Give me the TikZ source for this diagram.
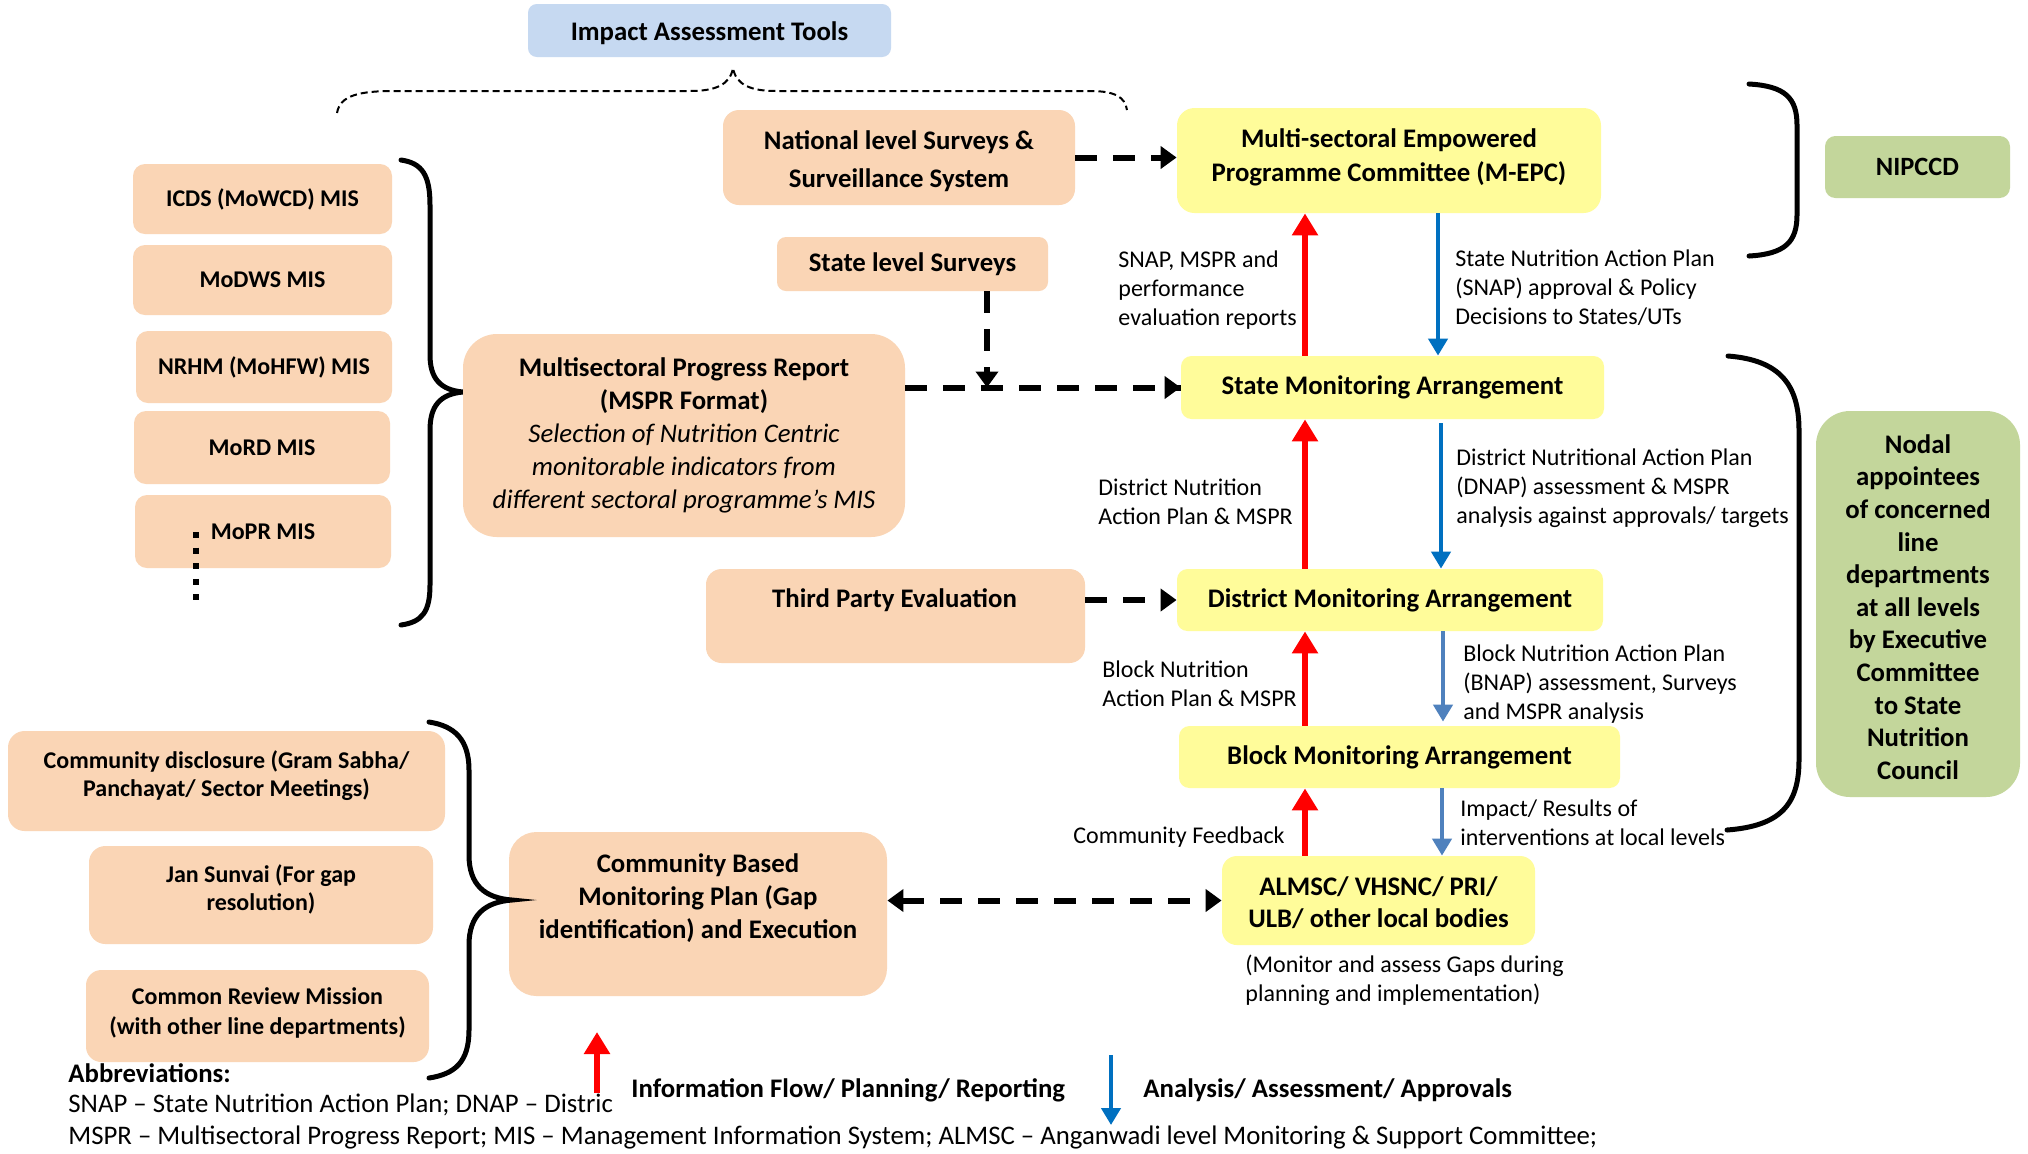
\documentclass[tikz,border=0pt]{standalone}
\usepackage{fontspec}
\setmainfont{Carlito}
\usetikzlibrary{arrows.meta}
\definecolor{peach}{HTML}{FAD5B5}
\definecolor{ylw}{HTML}{FFFC9A}
\definecolor{grn}{HTML}{C3D69B}
\definecolor{ttl}{HTML}{C6D9F1}
\definecolor{blA}{HTML}{0070C0}
\definecolor{blB}{HTML}{4F81BD}
\tikzset{
  box/.style={rounded corners=#1, inner sep=0pt, align=center, font=\bfseries\fontsize{13.4}{16.5}\selectfont},
  pbox/.style={box=#1, fill=peach},
  ybox/.style={box=#1, fill=ylw},
  gbox/.style={box=#1, fill=grn},
  misbox/.style={pbox=6pt, font=\bfseries\fontsize{12}{16.5}\selectfont},
  txt/.style={inner sep=0pt, align=center, font=\bfseries\fontsize{13.4}{16.5}\selectfont},
  ctxt/.style={inner sep=0pt, align=center, font=\bfseries\fontsize{12}{14}\selectfont},
  lbl/.style={inner sep=0pt, align=left, anchor=west, font=\fontsize{12}{14.5}\selectfont},
  dasharr/.style={line width=3pt, dash pattern=on 11pt off 8pt, -{Triangle[length=8pt,width=11pt]}},
  dasharrb/.style={line width=3pt, dash pattern=on 11pt off 8pt, {Triangle[length=8pt,width=11pt]}-{Triangle[length=8pt,width=11pt]}},
  rarr/.style={draw=red, line width=3.2pt, -{Triangle[length=11pt,width=12.5pt]}},
  barr/.style={draw=#1, line width=2.3pt, -{Triangle[length=8.5pt,width=9.5pt]}},
  brace/.style={line width=2.5pt, line cap=round},
  dotbrace/.style={line width=1pt, dash pattern=on 3.5pt off 2pt},
}
\begin{document}
\begin{tikzpicture}[x=0.5pt,y=-0.5pt]
\useasboundingbox (0,0) rectangle (2028,1153);
\fill[white] (0,0) rectangle (2028,1153);

% title and dotted brace
\node[box=4.4pt, fill=ttl, minimum width=181.5pt, minimum height=26.5pt] (imp) at (709.5,30.5) {};
\node[txt] (impt) at (709.5,33) {Impact Assessment Tools};
\draw[dotbrace] (337,113) .. controls (340,95) and (360,91) .. (395,91) -- (690,91) .. controls (715,91) and (730,85) .. (733,68) .. controls (736,85) and (751,91) .. (776,91) -- (1090,91) .. controls (1115,91) and (1125,97) .. (1127,110);

% top boxes
\node[pbox=8pt, minimum width=176pt, minimum height=47.5pt] (nat) at (899,157.5) {};
\node[txt, font=\bfseries\fontsize{13.4}{19}\selectfont] (natt) at (899,161) {National level Surveys \&\\Surveillance System};
\node[ybox=8.75pt, minimum width=212pt, minimum height=52.5pt] (mepc) at (1389,160.5) {};
\node[txt, font=\bfseries\fontsize{13.4}{17}\selectfont] (mepct) at (1389,157) {Multi-sectoral Empowered\\Programme Committee (M-EPC)};
\node[gbox=5.2pt, minimum width=92.5pt, minimum height=31pt, font=\bfseries\fontsize{13.2}{16}\selectfont] (nipccd) at (1917.5,167) {NIPCCD};
\node[pbox=4.5pt, minimum width=135.5pt, minimum height=27pt] (ssurv) at (912.5,264) {State level Surveys};

% MIS boxes
\node[misbox, minimum width=129.5pt, minimum height=35pt] (icds) at (262.5,199) {ICDS (MoWCD) MIS};
\node[misbox, minimum width=129.5pt, minimum height=35pt] (modws) at (262.5,280) {MoDWS MIS};
\node[misbox, minimum width=128pt, minimum height=36pt] (nrhm) at (264,367) {NRHM (MoHFW) MIS};
\node[misbox, minimum width=128pt, minimum height=36.5pt] (mord) at (262,447.5) {MoRD MIS};
\node[misbox, minimum width=128pt, minimum height=36.5pt] (mopr) at (263,531.5) {MoPR MIS};
\coordinate (dt1) at (196,532);
\coordinate (dt2) at (196,604);
\draw[line width=3pt, dash pattern=on 3pt off 4.8pt] (dt1) -- (dt2);

% brace MIS
\draw[brace] (401,160) .. controls (422,163) and (430,175) .. (430,205) -- (430,355) .. controls (430,378) and (440,390) .. (463,392) .. controls (440,394) and (430,406) .. (430,430) -- (430,585) .. controls (430,612) and (422,622) .. (401,625);

% MSPR
\node[pbox=17pt, minimum width=221pt, minimum height=101.5pt] (mspr) at (684,435.5) {Multisectoral Progress Report\\(MSPR Format)\\{\mdseries\itshape Selection of Nutrition Centric}\\{\mdseries\itshape monitorable indicators from}\\{\mdseries\itshape different sectoral programme’s MIS}};

% monitoring chain
\node[ybox=5.25pt, minimum width=211.5pt, minimum height=31.5pt] (state) at (1392.5,387.5) {State Monitoring Arrangement};
\node[ybox=5.2pt, minimum width=213pt, minimum height=31pt] (district) at (1390,600) {District Monitoring Arrangement};
\node[ybox=5.2pt, minimum width=220.5pt, minimum height=31pt] (block) at (1399.5,757) {Block Monitoring Arrangement};
\node[ybox=7.4pt, minimum width=156.5pt, minimum height=44.5pt] (almsc) at (1378.5,900.5) {};
\node[txt, font=\bfseries\fontsize{13.4}{16}\selectfont] (almsct) at (1378.5,903) {ALMSC/ VHSNC/ PRI/\\ULB/ other local bodies};

\node[pbox=7.8pt, minimum width=189.5pt, minimum height=47pt] (third) at (895.5,616) {};
\node[txt] (thirdt) at (894.5,600) {Third Party Evaluation};

% right side
\node[gbox=17pt, minimum width=102pt, minimum height=193pt] (nodal) at (1918,604) {};
\node[txt, font=\bfseries\fontsize{13.4}{16.3}\selectfont] (nodalt) at (1918,607) {Nodal\\appointees\\of concerned\\line\\departments\\at all levels\\by Executive\\Committee\\to State\\Nutrition\\Council};
\draw[brace] (1749,84) .. controls (1785,86) and (1797,98) .. (1797,125) -- (1797,215) .. controls (1797,242) and (1785,254) .. (1749,256);
\draw[brace] (1728,356) .. controls (1780,360) and (1799,385) .. (1799,430) -- (1799,760) .. controls (1799,805) and (1780,826) .. (1727,830);

% community
\node[pbox=13.7pt, minimum width=189pt, minimum height=82pt] (cbm) at (698,914) {};
\node[txt] (cbmt) at (698,898.5) {Community Based\\Monitoring Plan (Gap\\identification) and Execution};
\node[pbox=8.3pt, minimum width=218.5pt, minimum height=50pt] (comm1) at (226.5,781) {};
\node[ctxt] (comm1t) at (226.5,776) {Community disclosure (Gram Sabha/\\Panchayat/ Sector Meetings)};
\node[pbox=8.2pt, minimum width=172pt, minimum height=49pt] (jan) at (261,895) {};
\node[ctxt] (jant) at (261,889) {Jan Sunvai (For gap\\resolution)};
\node[pbox=7.7pt, minimum width=171.5pt, minimum height=46pt] (crm) at (257.5,1016) {};
\node[ctxt, font=\bfseries\fontsize{12}{15}\selectfont] (crmt) at (257.5,1013) {Common Review Mission\\(with other line departments)};
\draw[brace] (429,722) .. controls (455,726) and (469,740) .. (469,770) -- (469,855) .. controls (469,885) and (485,898) .. (512,900) .. controls (485,902) and (469,915) .. (469,945) -- (469,1030) .. controls (469,1062) and (455,1074) .. (429,1078);

% dashed arrows
\coordinate (sj) at (987,387.5);
\draw[dasharr] (nat.east) -- (nat.east -| mepc.west);
\draw[line width=3pt, dash pattern=on 11pt off 8pt] (mspr.east |- state.west) -- (state.west);
\draw[-{Triangle[length=8pt,width=11pt]}, line width=3pt] ([xshift=-2pt]state.west) -- (state.west);
\draw[dasharr] (ssurv.south -| sj) -- (sj);
\draw[dasharr] (third.east |- district.west) -- (district.west);
\draw[dasharrb] (cbm.east |- almsc.west) -- (almsc.west);

% vertical flows
\coordinate (rx) at (1305,0);
\draw[rarr] (state.north -| rx) -- (mepc.south -| rx);
\draw[rarr] (district.north -| rx) -- (state.south -| rx);
\draw[rarr] (block.north -| rx) -- (district.south -| rx);
\draw[rarr] (almsc.north -| rx) -- (block.south -| rx);
\coordinate (bx1) at (1438,0);
\coordinate (bx2) at (1441,0);
\coordinate (bx3) at (1443,0);
\coordinate (bx4) at (1442,0);
\draw[barr=blA] (mepc.south -| bx1) -- (state.north -| bx1);
\draw[barr=blA] ([yshift=-2pt]state.south -| bx2) -- (district.north -| bx2);
\draw[barr=blB] (district.south -| bx3) -- ([yshift=2pt]block.north -| bx3);
\draw[barr=blB] (block.south -| bx4) -- (almsc.north -| bx4);

% labels
\node[lbl] (l1) at (1118,290) {SNAP, MSPR and\\performance\\evaluation reports};
\node[lbl] (r1) at (1455,288) {State Nutrition Action Plan\\(SNAP) approval \& Policy\\Decisions to States/UTs};
\node[lbl] (l2) at (1098,502) {District Nutrition\\Action Plan \& MSPR};
\node[lbl] (r2) at (1456,488) {District Nutritional Action Plan\\(DNAP) assessment \& MSPR\\analysis against approvals/ targets};
\node[lbl] (l3) at (1102,683.5) {Block Nutrition\\Action Plan \& MSPR};
\node[lbl] (r3) at (1463,684) {Block Nutrition Action Plan\\(BNAP) assessment, Surveys\\and MSPR analysis};
\node[lbl, anchor=east] (l4) at (1285,837) {Community Feedback};
\node[lbl] (r4) at (1460,822.5) {Impact/ Results of\\interventions at local levels};
\node[lbl] (mon) at (1245,980) {(Monitor and assess Gaps during\\planning and implementation)};

% abbreviations and legend
\node[lbl, font=\bfseries\fontsize{13.4}{15}\selectfont] (abb) at (68,1073) {Abbreviations:};
\node[lbl, font=\fontsize{13.4}{15}\selectfont] (abb1) at (68,1105) {SNAP – State Nutrition Action Plan; DNAP – Distric};
\node[lbl, font=\fontsize{13.4}{15}\selectfont] (abb2) at (68,1137) {MSPR – Multisectoral Progress Report; MIS – Management Information System; ALMSC – Anganwadi level Monitoring \& Support Committee;};
\coordinate (lr1) at (597,1093);
\coordinate (lr2) at (597,1032);
\draw[rarr] (lr1) -- (lr2);
\node[lbl, font=\bfseries\fontsize{13.4}{15}\selectfont] (leg1) at (631,1090) {Information Flow/ Planning/ Reporting};
\coordinate (lb1) at (1111,1055);
\coordinate (lb2) at (1111,1125);
\draw[barr=blA] (lb1) -- (lb2);
\node[lbl, font=\bfseries\fontsize{13.4}{15}\selectfont] (leg2) at (1143,1090) {Analysis/ Assessment/ Approvals};
\end{tikzpicture}
\end{document}
